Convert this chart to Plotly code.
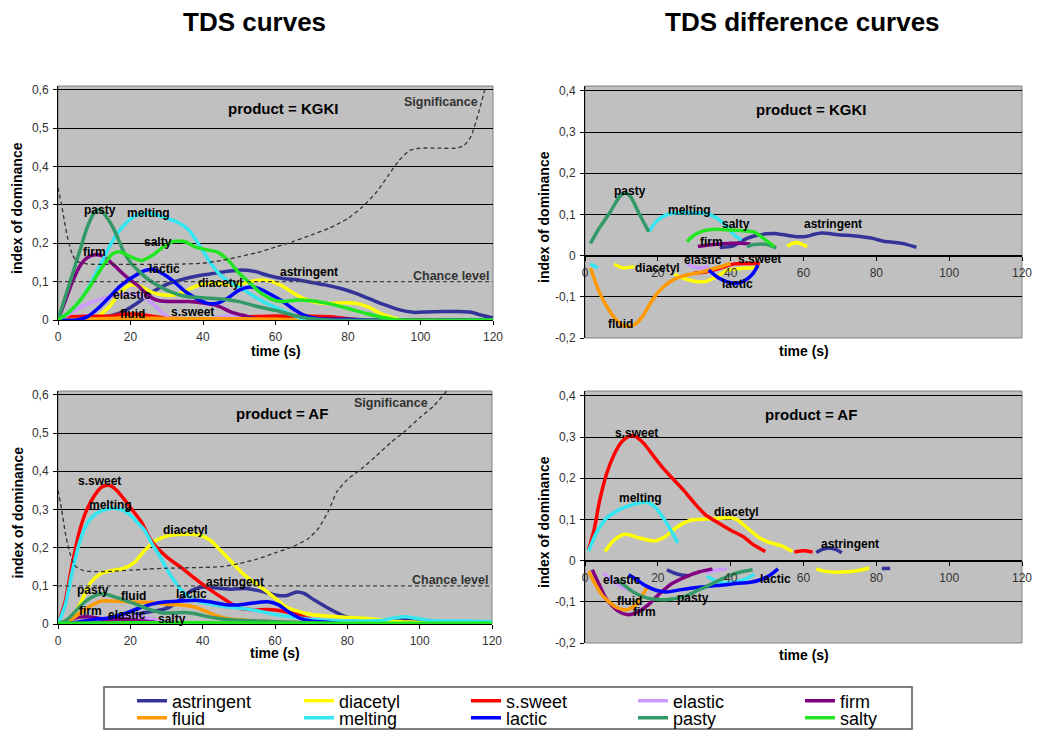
import plotly.graph_objects as go

# ------------------------------------------------------------------ data
ATTRIBUTES = ["astringent", "diacetyl", "s.sweet", "elastic", "firm",
              "fluid", "melting", "lactic", "pasty", "salty"]

TIME_TICKS = [0, 20, 40, 60, 80, 100, 120]
TIME_TICK_LABELS = ["0", "20", "40", "60", "80", "100", "120"]
TDS_TICKS = [0, 0.1, 0.2, 0.3, 0.4, 0.5, 0.6]
TDS_TICK_LABELS = ["0", "0,1", "0,2", "0,3", "0,4", "0,5", "0,6"]
DIFF_TICKS = [-0.2, -0.1, 0, 0.1, 0.2, 0.3, 0.4]
DIFF_TICK_LABELS = ["-0,2", "-0,1", "0", "0,1", "0,2", "0,3", "0,4"]
CHANCE_LEVEL = 0.1
CHANCE_T = [0, 120]

# ---- TDS curves, product KGKI
kt_astringent_t = [0, 6, 10, 14, 18, 22, 26, 30, 34, 38, 42, 46, 50, 54, 58, 62, 66, 70, 74, 78, 82, 86, 90, 94, 98, 102, 106, 110, 114, 117, 120]
kt_astringent_v = [0, 0, 0.004, 0.01, 0.022, 0.045, 0.073, 0.093, 0.105, 0.114, 0.12, 0.126, 0.13, 0.127, 0.116, 0.108, 0.105, 0.098, 0.091, 0.082, 0.07, 0.055, 0.04, 0.027, 0.02, 0.021, 0.022, 0.022, 0.02, 0.012, 0.006]
kt_diacetyl_t = [0, 8, 11, 14, 17, 20, 23, 26, 29, 32, 35, 38, 41, 44, 47, 50, 53, 56, 59, 62, 65, 68, 71, 74, 77, 80, 83, 86, 89, 92, 95, 120]
kt_diacetyl_v = [0, 0, 0.01, 0.033, 0.07, 0.092, 0.086, 0.072, 0.065, 0.065, 0.075, 0.088, 0.096, 0.096, 0.092, 0.093, 0.1, 0.104, 0.1, 0.088, 0.07, 0.055, 0.046, 0.043, 0.044, 0.045, 0.042, 0.032, 0.017, 0.007, 0, 0]
kt_ssweet_t = [0, 3, 8, 14, 18, 22, 26, 30, 34, 40, 46, 52, 58, 64, 70, 76, 80, 84, 120]
kt_ssweet_v = [0, 0.008, 0.01, 0.01, 0.015, 0.015, 0.01, 0.005, 0.003, 0.002, 0.003, 0.008, 0.01, 0.01, 0.01, 0.008, 0.003, 0, 0]
kt_elastic_t = [0, 3, 6, 9, 12, 15, 18, 21, 24, 27, 30, 33, 40, 45, 48, 52, 56, 120]
kt_elastic_v = [0, 0.015, 0.032, 0.045, 0.055, 0.063, 0.068, 0.068, 0.058, 0.035, 0.01, 0, 0, 0.008, 0.012, 0.005, 0, 0]
kt_firm_t = [0, 2, 4, 6, 8, 10, 12, 14, 16, 18, 20, 22, 24, 26, 28, 32, 36, 40, 44, 48, 52, 56, 120]
kt_firm_v = [0, 0.05, 0.1, 0.14, 0.162, 0.17, 0.168, 0.155, 0.138, 0.12, 0.104, 0.09, 0.072, 0.057, 0.05, 0.048, 0.048, 0.044, 0.037, 0.02, 0.01, 0, 0]
kt_fluid_t = [0, 10, 20, 30, 40, 50, 60, 65, 70, 120]
kt_fluid_v = [0, 0.003, 0.005, 0.004, 0.003, 0.003, 0.002, 0.001, 0, 0]
kt_melting_t = [0, 3, 6, 9, 12, 15, 18, 21, 24, 27, 30, 33, 36, 39, 42, 45, 48, 51, 54, 57, 60, 63, 66, 69, 120]
kt_melting_v = [0, 0.02, 0.05, 0.095, 0.15, 0.205, 0.245, 0.27, 0.278, 0.275, 0.265, 0.255, 0.235, 0.195, 0.15, 0.115, 0.095, 0.08, 0.062, 0.046, 0.033, 0.02, 0.008, 0, 0]
kt_lactic_t = [0, 5, 8, 11, 14, 17, 20, 23, 26, 29, 32, 35, 38, 41, 44, 47, 50, 53, 56, 59, 62, 65, 68, 72, 80, 86, 120]
kt_lactic_v = [0, 0, 0.008, 0.03, 0.058, 0.087, 0.108, 0.125, 0.132, 0.12, 0.1, 0.075, 0.057, 0.044, 0.044, 0.058, 0.078, 0.086, 0.08, 0.065, 0.048, 0.028, 0.012, 0.003, 0.002, 0, 0]
kt_pasty_t = [0, 2, 4, 6, 8, 10, 11, 12, 14, 16, 18, 20, 22, 25, 28, 30, 35, 40, 45, 50, 55, 60, 65, 70, 75, 120]
kt_pasty_v = [0, 0.06, 0.12, 0.18, 0.24, 0.28, 0.287, 0.285, 0.26, 0.225, 0.18, 0.15, 0.13, 0.105, 0.088, 0.078, 0.062, 0.058, 0.055, 0.048, 0.035, 0.025, 0.012, 0.003, 0, 0]
kt_salty_t = [0, 3, 6, 9, 12, 15, 17, 20, 23, 26, 29, 32, 35, 38, 41, 44, 47, 50, 53, 56, 59, 62, 66, 70, 75, 80, 85, 90, 94, 120]
kt_salty_v = [0, 0.02, 0.05, 0.09, 0.135, 0.172, 0.178, 0.165, 0.155, 0.168, 0.19, 0.205, 0.204, 0.19, 0.183, 0.177, 0.155, 0.122, 0.096, 0.07, 0.054, 0.048, 0.052, 0.05, 0.042, 0.03, 0.017, 0.006, 0, 0]
kt_signif_t = [0, 1, 2, 3, 4, 5, 6, 8, 10, 15, 20, 25, 30, 35, 40, 45, 50, 55, 60, 65, 70, 75, 80, 84, 88, 91, 94, 97, 100, 105, 110, 112, 114, 116, 118]
kt_signif_v = [0.345, 0.3, 0.245, 0.2, 0.17, 0.155, 0.15, 0.146, 0.145, 0.145, 0.145, 0.145, 0.145, 0.146, 0.148, 0.155, 0.165, 0.176, 0.19, 0.205, 0.222, 0.24, 0.265, 0.295, 0.335, 0.375, 0.415, 0.442, 0.448, 0.448, 0.448, 0.455, 0.48, 0.54, 0.61]

# ---- TDS curves, product AF
at_astringent_t = [0, 10, 15, 20, 24, 28, 31, 34, 37, 40, 44, 48, 52, 56, 60, 63, 66, 68, 71, 74, 77, 80, 85, 90, 95, 100, 105, 110, 120]
at_astringent_v = [0, 0.003, 0.01, 0.02, 0.03, 0.036, 0.045, 0.065, 0.088, 0.097, 0.094, 0.091, 0.093, 0.086, 0.076, 0.074, 0.084, 0.08, 0.062, 0.045, 0.03, 0.018, 0.01, 0.008, 0.012, 0.01, 0.005, 0.003, 0]
at_diacetyl_t = [0, 3, 6, 9, 12, 15, 18, 21, 24, 27, 30, 33, 36, 39, 42, 45, 48, 51, 54, 57, 60, 63, 66, 70, 75, 80, 85, 90, 95, 100, 105, 120]
at_diacetyl_v = [0, 0.008, 0.05, 0.108, 0.133, 0.14, 0.145, 0.16, 0.193, 0.218, 0.23, 0.234, 0.235, 0.233, 0.22, 0.192, 0.163, 0.133, 0.11, 0.09, 0.068, 0.045, 0.034, 0.025, 0.02, 0.017, 0.015, 0.01, 0.006, 0.004, 0, 0]
at_ssweet_t = [0, 2, 4, 6, 8, 10, 12, 14, 16, 18, 20, 23, 26, 30, 34, 38, 42, 46, 50, 54, 58, 62, 66, 70, 75, 120]
at_ssweet_v = [0, 0.06, 0.16, 0.245, 0.3, 0.335, 0.358, 0.363, 0.352, 0.33, 0.305, 0.268, 0.215, 0.176, 0.148, 0.118, 0.09, 0.065, 0.042, 0.037, 0.038, 0.034, 0.025, 0.012, 0, 0]
at_elastic_t = [0, 5, 10, 15, 20, 25, 30, 35, 120]
at_elastic_v = [0, 0.005, 0.012, 0.018, 0.02, 0.015, 0.006, 0, 0]
at_firm_t = [0, 3, 6, 9, 12, 15, 18, 21, 24, 27, 30, 120]
at_firm_v = [0, 0.01, 0.018, 0.018, 0.014, 0.012, 0.012, 0.01, 0.008, 0.004, 0, 0]
at_fluid_t = [0, 3, 6, 9, 12, 15, 18, 22, 26, 30, 34, 38, 41, 44, 47, 50, 55, 65, 75, 120]
at_fluid_v = [0, 0.008, 0.028, 0.047, 0.06, 0.06, 0.059, 0.057, 0.056, 0.052, 0.05, 0.044, 0.033, 0.021, 0.014, 0.011, 0.008, 0.004, 0, 0]
at_melting_t = [0, 2, 4, 6, 8, 10, 12, 15, 18, 20, 22, 24, 26, 28, 30, 32, 34, 36, 38, 42, 46, 50, 55, 60, 65, 70, 75, 80, 85, 90, 93, 96, 99, 102, 106, 110, 115, 120]
at_melting_v = [0, 0.05, 0.14, 0.215, 0.262, 0.285, 0.296, 0.303, 0.298, 0.285, 0.265, 0.245, 0.21, 0.18, 0.145, 0.115, 0.09, 0.072, 0.062, 0.052, 0.046, 0.042, 0.035, 0.025, 0.018, 0.012, 0.009, 0.008, 0.008, 0.01, 0.016, 0.019, 0.015, 0.01, 0.008, 0.008, 0.007, 0.006]
at_lactic_t = [0, 5, 10, 14, 18, 22, 26, 30, 34, 38, 42, 46, 50, 54, 58, 61, 64, 67, 70, 75, 80, 120]
at_lactic_v = [0, 0.004, 0.012, 0.016, 0.026, 0.04, 0.052, 0.058, 0.06, 0.062, 0.058, 0.051, 0.05, 0.055, 0.058, 0.05, 0.03, 0.015, 0.008, 0.004, 0, 0]
at_pasty_t = [0, 2, 4, 6, 8, 10, 12, 14, 16, 18, 20, 23, 26, 29, 32, 35, 38, 41, 45, 50, 55, 60, 70, 80, 120]
at_pasty_v = [0, 0.008, 0.025, 0.045, 0.062, 0.073, 0.079, 0.076, 0.07, 0.064, 0.057, 0.046, 0.036, 0.029, 0.029, 0.03, 0.027, 0.02, 0.014, 0.01, 0.008, 0.006, 0.003, 0, 0]
at_salty_t = [0, 20, 40, 60, 80, 100, 120]
at_salty_v = [0.002, 0.003, 0.003, 0.002, 0.002, 0.002, 0.002]
at_signif_t = [0, 1, 2, 3, 4, 5, 7, 10, 15, 20, 25, 30, 35, 40, 45, 50, 55, 60, 65, 69, 72, 75, 77, 80, 84, 88, 92, 96, 100, 104, 107.5]
at_signif_v = [0.35, 0.3, 0.24, 0.195, 0.165, 0.15, 0.14, 0.137, 0.138, 0.141, 0.144, 0.146, 0.147, 0.148, 0.15, 0.158, 0.17, 0.186, 0.203, 0.222, 0.25, 0.3, 0.345, 0.378, 0.407, 0.44, 0.475, 0.505, 0.54, 0.572, 0.61]

# ---- TDS difference curves, product KGKI (None = not significant)
kd_astringent_t = [37, 40.5, 42.5, 44.5, 47, 50, 52, 55, 58, 61, 63, 65, 67, 70, 73, 76, 79, 82, 85, 88, 91]
kd_astringent_v = [0.02, 0.023, 0.033, 0.042, 0.049, 0.053, 0.054, 0.05, 0.046, 0.047, 0.052, 0.055, 0.054, 0.05, 0.049, 0.046, 0.042, 0.035, 0.032, 0.028, 0.02]
kd_diacetyl_t = [8, 10.5, 13.5, None, 24.5, 27, 30, 33, 36, 39, 42, 45, 47, None, 55.5, 58, 61]
kd_diacetyl_v = [-0.021, -0.03, -0.026, None, -0.045, -0.055, -0.062, -0.063, -0.052, -0.036, -0.032, -0.03, -0.03, None, 0.023, 0.032, 0.022]
kd_ssweet_t = [30, 33, 36, 38, 41, 44, 46, 48]
kd_ssweet_v = [-0.042, -0.04, -0.033, -0.028, -0.02, -0.019, -0.019, -0.019]
kd_elastic_t = [28, 30, 32, 34]
kd_elastic_v = [-0.02, -0.028, -0.03, -0.025]
kd_firm_t = [31, 34, 37, 40, 43, 45.5]
kd_firm_v = [0.022, 0.026, 0.028, 0.03, 0.03, 0.028]
kd_fluid_t = [1.5, 4, 6, 8, 10, 12, 14, 16, 18, 20, 22, 25, 28, 32, 36, 40]
kd_fluid_v = [-0.03, -0.09, -0.124, -0.15, -0.168, -0.172, -0.165, -0.145, -0.115, -0.09, -0.072, -0.055, -0.047, -0.04, -0.03, -0.019]
kd_melting_t = [1.5, 3.5, None, 17.5, 19.5, 22, 25, 29, 33, 36, 39, 41, 43]
kd_melting_v = [-0.02, -0.03, None, 0.058, 0.082, 0.098, 0.104, 0.104, 0.103, 0.092, 0.07, 0.05, 0.038]
kd_lactic_t = [34, 36, 38, 40, 42, 44, 46, 47.5]
kd_lactic_v = [-0.035, -0.05, -0.06, -0.066, -0.067, -0.06, -0.045, -0.023]
kd_pasty_t = [1.5, 4, 7, 9.5, 11, 12.5, 15, 17.5, None, 44.5, 46.5, 50, 52.5]
kd_pasty_v = [0.03, 0.068, 0.107, 0.143, 0.152, 0.143, 0.1, 0.058, None, 0.022, 0.027, 0.027, 0.019]
kd_salty_t = [28, 30, 32.5, 36, 40, 44, 46.5, 49, 52]
kd_salty_v = [0.034, 0.05, 0.06, 0.064, 0.062, 0.06, 0.057, 0.042, 0.022]

# ---- TDS difference curves, product AF
ad_astringent_t = [22.5, 24.5, 26.5, 28.5, None, 63.5, 65, 67, 69, 70.5, None, 81.5, 83.8]
ad_astringent_v = [-0.022, -0.03, -0.035, -0.037, None, 0.02, 0.027, 0.031, 0.027, 0.019, None, -0.019, -0.019]
ad_diacetyl_t = [5.5, 8, 11, 15, 19, 22, 25, 29, 33, 37, 40, 42, 45, 48, 51, 54, 57, None, 63.5, 66, 69, 72, 75, 78]
ad_diacetyl_v = [0.023, 0.05, 0.064, 0.055, 0.048, 0.058, 0.08, 0.098, 0.101, 0.103, 0.104, 0.098, 0.076, 0.055, 0.043, 0.036, 0.022, None, -0.02, -0.026, -0.028, -0.027, -0.024, -0.018]
ad_ssweet_t = [1, 2.5, 4, 6, 8, 10, 12, 13.5, 16, 19, 21.5, 24, 27, 30, 33, 36, 40, 43.5, 46, 49.5, None, 57.5, 60, 62.5]
ad_ssweet_v = [0.027, 0.075, 0.145, 0.213, 0.258, 0.288, 0.302, 0.303, 0.286, 0.252, 0.224, 0.2, 0.172, 0.14, 0.112, 0.095, 0.074, 0.058, 0.04, 0.022, None, 0.021, 0.024, 0.021]
ad_elastic_t = [5, 7, 9, 11, 13, None, 33, 35, 37, 39]
ad_elastic_v = [-0.03, -0.045, -0.058, -0.068, -0.07, None, -0.028, -0.025, -0.022, -0.02]
ad_firm_t = [2, 4, 6, 9, 11.5, 14, 17, 20.5, 24, 28, 31.5, 35]
ad_firm_v = [-0.022, -0.06, -0.095, -0.122, -0.131, -0.127, -0.11, -0.08, -0.055, -0.038, -0.027, -0.02]
ad_fluid_t = [1, 3, 5, 7, 9, 11.5, 14, 16, 17]
ad_fluid_v = [-0.026, -0.06, -0.087, -0.103, -0.115, -0.119, -0.107, -0.08, -0.066]
ad_melting_t = [1, 3, 6, 9.5, 13, 17, 19.5, 22.5, 25.5, None, 33.5, 37, 41, 44, 46.5]
ad_melting_v = [0.023, 0.065, 0.104, 0.124, 0.136, 0.142, 0.128, 0.09, 0.043, None, -0.038, -0.053, -0.052, -0.045, -0.033]
ad_lactic_t = [12, 14, 16.5, 19.5, 22.5, 26, 30, 34, 38, 42, 45, 48, 51, 53]
ad_lactic_v = [-0.034, -0.045, -0.06, -0.072, -0.076, -0.071, -0.066, -0.062, -0.059, -0.055, -0.053, -0.047, -0.034, -0.02]
ad_pasty_t = [8.5, 10.5, 13, 16, 19, 22, 25, 28, 31, 34, 37, 40, 43, 46]
ad_pasty_v = [-0.045, -0.058, -0.075, -0.088, -0.094, -0.095, -0.092, -0.085, -0.072, -0.06, -0.047, -0.035, -0.027, -0.022]
ad_salty_t = []
ad_salty_v = []

# ---- curve labels (text, time, value)
kt_labels = ["pasty", "melting", "salty", "firm", "lactic", "elastic", "diacetyl", "astringent", "fluid", "s.sweet"]
kt_label_t = [11.6, 25, 27.5, 10, 29.5, 20.3, 44.7, 69.3, 20.6, 37]
kt_label_v = [0.287, 0.278, 0.204, 0.178, 0.132, 0.065, 0.096, 0.126, 0.015, 0.02]
at_labels = ["s.sweet", "melting", "diacetyl", "astringent", "pasty", "fluid", "lactic", "firm", "elastic", "salty"]
at_label_t = [11.6, 14.4, 35.3, 48.9, 9.8, 20.8, 37, 9, 19, 31.6]
at_label_v = [0.375, 0.312, 0.245, 0.109, 0.089, 0.074, 0.078, 0.034, 0.024, 0.013]
kd_labels = ["pasty", "melting", "salty", "astringent", "firm", "elastic", "s.sweet", "diacetyl", "lactic", "fluid"]
kd_label_t = [12.3, 28.8, 41.6, 68.2, 34.8, 32.3, 47.9, 19.8, 41.8, 9.8]
kd_label_v = [0.156, 0.111, 0.076, 0.076, 0.034, -0.011, -0.008, -0.031, -0.07, -0.165]
ad_labels = ["s.sweet", "melting", "diacetyl", "astringent", "elastic", "lactic", "fluid", "pasty", "firm"]
ad_label_t = [14.2, 15.2, 41.6, 72.9, 10.1, 52.3, 12.1, 29.7, 16.3]
ad_label_v = [0.31, 0.152, 0.118, 0.041, -0.046, -0.044, -0.097, -0.091, -0.125]

# ------------------------------------------------------------------ assembly
SERIES = {
    "kt": [(kt_astringent_t, kt_astringent_v), (kt_diacetyl_t, kt_diacetyl_v), (kt_ssweet_t, kt_ssweet_v),
           (kt_elastic_t, kt_elastic_v), (kt_firm_t, kt_firm_v), (kt_fluid_t, kt_fluid_v),
           (kt_melting_t, kt_melting_v), (kt_lactic_t, kt_lactic_v), (kt_pasty_t, kt_pasty_v), (kt_salty_t, kt_salty_v)],
    "kd": [(kd_astringent_t, kd_astringent_v), (kd_diacetyl_t, kd_diacetyl_v), (kd_ssweet_t, kd_ssweet_v),
           (kd_elastic_t, kd_elastic_v), (kd_firm_t, kd_firm_v), (kd_fluid_t, kd_fluid_v),
           (kd_melting_t, kd_melting_v), (kd_lactic_t, kd_lactic_v), (kd_pasty_t, kd_pasty_v), (kd_salty_t, kd_salty_v)],
    "at": [(at_astringent_t, at_astringent_v), (at_diacetyl_t, at_diacetyl_v), (at_ssweet_t, at_ssweet_v),
           (at_elastic_t, at_elastic_v), (at_firm_t, at_firm_v), (at_fluid_t, at_fluid_v),
           (at_melting_t, at_melting_v), (at_lactic_t, at_lactic_v), (at_pasty_t, at_pasty_v), (at_salty_t, at_salty_v)],
    "ad": [(ad_astringent_t, ad_astringent_v), (ad_diacetyl_t, ad_diacetyl_v), (ad_ssweet_t, ad_ssweet_v),
           (ad_elastic_t, ad_elastic_v), (ad_firm_t, ad_firm_v), (ad_fluid_t, ad_fluid_v),
           (ad_melting_t, ad_melting_v), (ad_lactic_t, ad_lactic_v), (ad_pasty_t, ad_pasty_v), (ad_salty_t, ad_salty_v)],
}
SIGNIF = {"kt": (kt_signif_t, kt_signif_v), "at": (at_signif_t, at_signif_v)}
LABELS = {"kt": (kt_labels, kt_label_t, kt_label_v), "at": (at_labels, at_label_t, at_label_v),
          "kd": (kd_labels, kd_label_t, kd_label_v), "ad": (ad_labels, ad_label_t, ad_label_v)}
PRODUCT = {"kt": "KGKI", "kd": "KGKI", "at": "AF", "ad": "AF"}

COLORS = ["#333399", "#FFFF00", "#FF0000", "#CC99FF", "#800080",
          "#FF9900", "#33E6F2", "#0000FF", "#339966", "#22E622"]

FONT = "Liberation Sans, Arial, Helvetica, sans-serif"
W, H = 1037, 734
BG = "#C0C0C0"


def px(x):
    return x / W


def py(y):
    return 1 - y / H


PANELS = [
    dict(key="kt", xa="x", ya="y", xdom=(58, 493), ydom=(86, 320), yr=(0, 0.61), diff=False),
    dict(key="kd", xa="x2", ya="y2", xdom=(585, 1022), ydom=(86, 338), yr=(-0.2, 0.412), diff=True),
    dict(key="at", xa="x3", ya="y3", xdom=(58, 492), ydom=(391, 624), yr=(0, 0.61), diff=False),
    dict(key="ad", xa="x4", ya="y4", xdom=(585, 1022), ydom=(391, 643), yr=(-0.2, 0.412), diff=True),
]

fig = go.Figure()
annotations = []
shapes = []
layout_axes = {}


def paper_text(x, y, text, size, angle=0, color="black"):
    return dict(x=px(x), y=py(y), xref="paper", yref="paper", xanchor="center", yanchor="middle",
                text=text, showarrow=False, textangle=angle,
                font=dict(family=FONT, size=size, color=color))


for i, p in enumerate(PANELS):
    key, xa, ya = p["key"], p["xa"], p["ya"]
    if not p["diff"]:
        # background-coloured band hiding the grid line under the dashed chance line
        fig.add_trace(go.Scatter(x=CHANCE_T, y=[CHANCE_LEVEL, CHANCE_LEVEL], mode="lines",
                                 line=dict(color=BG, width=2.5), xaxis=xa, yaxis=ya,
                                 showlegend=False, hoverinfo="skip"))
    for j, (name, (t, v)) in enumerate(zip(ATTRIBUTES, SERIES[key])):
        fig.add_trace(go.Scatter(
            x=t, y=v, mode="lines", name=name,
            line=dict(color=COLORS[j], width=3.5, shape="spline", smoothing=0.7),
            xaxis=xa, yaxis=ya,
            showlegend=(i == 0), legendgroup=name,
            legend="legend" if j < 5 else "legend2",
        ))
    if not p["diff"]:
        st, sv = SIGNIF[key]
        fig.add_trace(go.Scatter(x=st, y=sv, mode="lines",
                                 line=dict(color="#333333", width=1.3, dash="4px,3px", shape="spline", smoothing=0.5),
                                 xaxis=xa, yaxis=ya, showlegend=False, name="Significance"))
        fig.add_trace(go.Scatter(x=CHANCE_T, y=[CHANCE_LEVEL, CHANCE_LEVEL], mode="lines",
                                 line=dict(color="#444444", width=1.3, dash="4px,3px"),
                                 xaxis=xa, yaxis=ya, showlegend=False, name="Chance level"))
        sig_pos = (105.7, 0.568) if key == "kt" else (92, 0.578)
        annotations.append(dict(x=sig_pos[0], y=sig_pos[1], xref=xa, yref=ya, text="<b>Significance</b>",
                                xanchor="center", yanchor="middle",
                                showarrow=False, font=dict(family=FONT, size=12.5, color="#333")))
        annotations.append(dict(x=108.3, y=0.116, xref=xa, yref=ya, text="<b>Chance level</b>",
                                xanchor="center", yanchor="middle",
                                showarrow=False, font=dict(family=FONT, size=12.5, color="#333")))

    # curve labels
    lt, ltt, lvv = LABELS[key]
    for txt, tt, vv in zip(lt, ltt, lvv):
        annotations.append(dict(x=tt, y=vv, xref=xa, yref=ya, text="<b>" + txt + "</b>", showarrow=False,
                                xanchor="center", yanchor="middle",
                                font=dict(family=FONT, size=12, color="black")))
    # product label
    prod_y = 0.551 if not p["diff"] else 0.356
    annotations.append(dict(x=62, y=prod_y, xref=xa, yref=ya, text="<b>product = " + PRODUCT[key] + "</b>",
                            xanchor="center", yanchor="middle",
                            showarrow=False, font=dict(family=FONT, size=15, color="black")))

    # axes
    xd = [px(p["xdom"][0]), px(p["xdom"][1])]
    yd = [py(p["ydom"][1]), py(p["ydom"][0])]
    r0, r1 = p["yr"]
    xaxis = dict(domain=xd, range=[0, 120], tickvals=TIME_TICKS, ticktext=TIME_TICK_LABELS,
                 showgrid=False, zeroline=False, showline=True, linecolor="black", linewidth=1,
                 ticks="outside", ticklen=4, tickcolor="black", ticklabelstandoff=2,
                 tickfont=dict(family=FONT, size=12, color="#333"), fixedrange=True)
    if p["diff"]:
        zero_pos = yd[0] + (0 - r0) / (r1 - r0) * (yd[1] - yd[0])
        xaxis.update(anchor="free", position=zero_pos)
    else:
        xaxis.update(anchor=ya)
    yaxis = dict(domain=yd, range=[r0, r1], anchor=xa,
                 tickvals=DIFF_TICKS if p["diff"] else TDS_TICKS,
                 ticktext=DIFF_TICK_LABELS if p["diff"] else TDS_TICK_LABELS,
                 showgrid=True, gridcolor="black", gridwidth=1, zeroline=False,
                 showline=True, linecolor="black", linewidth=1,
                 ticks="outside", ticklen=4, tickcolor="black", ticklabelstandoff=2,
                 tickfont=dict(family=FONT, size=12, color="#333"), fixedrange=True)
    layout_axes["xaxis" if i == 0 else "xaxis%d" % (i + 1)] = xaxis
    layout_axes["yaxis" if i == 0 else "yaxis%d" % (i + 1)] = yaxis

    # plot area frame
    shapes.append(dict(type="rect", xref=xa + " domain", yref=ya + " domain", x0=0, x1=1, y0=0, y1=1,
                       line=dict(color="#808080", width=1), layer="below"))

    # axis titles
    ymid = (p["ydom"][0] + p["ydom"][1]) / 2 + 5
    xtitle_x = 17 if not p["diff"] else 544
    annotations.append(paper_text(xtitle_x, ymid, "<b>index of dominance</b>", 14, angle=-90))
    xmid = (p["xdom"][0] + p["xdom"][1]) / 2
    tt_y = {"kt": 350.5, "kd": 351, "at": 653, "ad": 655}[key]
    annotations.append(paper_text(xmid, tt_y, "<b>time (s)</b>", 14))

# column titles
annotations.append(paper_text(254, 22, "<b>TDS curves</b>", 26))
annotations.append(paper_text(802, 22, "<b>TDS difference curves</b>", 26))

# legend frame
shapes.append(dict(type="rect", xref="paper", yref="paper", x0=px(104), x1=px(912), y0=py(729), y1=py(687),
                   line=dict(color="#555555", width=1.5), layer="above"))

legend_common = dict(orientation="h", xanchor="left", yanchor="middle", entrywidth=122,
                     entrywidthmode="pixels", font=dict(family=FONT, size=18, color="black"),
                     bgcolor="rgba(0,0,0,0)", borderwidth=0, tracegroupgap=0, traceorder="normal")

fig.update_layout(
    width=W, height=H,
    margin=dict(l=0, r=0, t=0, b=0, pad=0, autoexpand=False),
    paper_bgcolor="white", plot_bgcolor=BG,
    font=dict(family=FONT, color="black"),
    annotations=annotations, shapes=shapes,
    legend=dict(x=px(132), y=py(701), **legend_common),
    legend2=dict(x=px(132), y=py(718), **legend_common),
    **layout_axes,
)

fig.write_html("out.html", config={"displayModeBar": False},
               post_script="document.body.style.margin='0px';")
